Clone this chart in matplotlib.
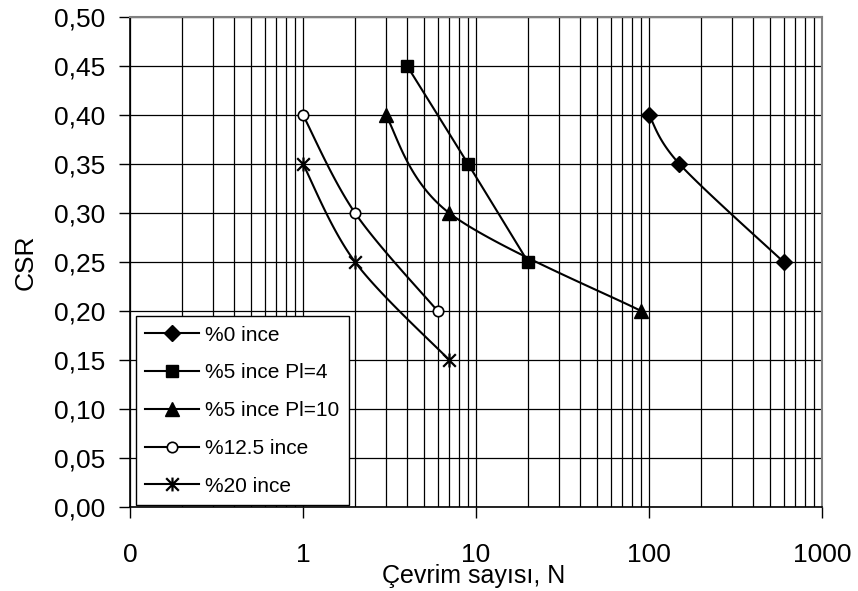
'''
cyclic strength curves: CSR against number of cycles
'''
import numpy as np
import matplotlib
matplotlib.use('Agg')
import matplotlib.pyplot as plt
from matplotlib.path import Path
from matplotlib.ticker import FixedLocator, FixedFormatter, FuncFormatter, LogLocator, NullFormatter

plt.rcParams['font.family'] = ['Liberation Sans', 'DejaVu Sans']

# series: number of cycles N and CSR
labels = ['%0 ince', '%5 ince Pl=4', '%5 ince Pl=10', '%12.5 ince', '%20 ince']
n_fines0 = [100, 150, 600]
csr_fines0 = [0.40, 0.35, 0.25]
n_fines5_pi4 = [4, 9, 20]
csr_fines5_pi4 = [0.45, 0.35, 0.25]
n_fines5_pi10 = [3, 7, 90]
csr_fines5_pi10 = [0.40, 0.30, 0.20]
n_fines12 = [1, 2, 6]
csr_fines12 = [0.40, 0.30, 0.20]
n_fines20 = [1, 2, 7]
csr_fines20 = [0.35, 0.25, 0.15]

x_ticks = [0.1, 1, 10, 100, 1000]
x_tick_labels = ['0', '1', '10', '100', '1000']
y_ticks = [0.00, 0.05, 0.10, 0.15, 0.20, 0.25, 0.30, 0.35, 0.40, 0.45, 0.50]

# asterisk marker: an x with a vertical bar through it
star = Path([(-1, -1), (1, 1), (-1, 1), (1, -1), (0, -1.1), (0, 1.1)],
            [Path.MOVETO, Path.LINETO, Path.MOVETO, Path.LINETO, Path.MOVETO, Path.LINETO])


def smooth(xs, ys, sx, sy):
    ''' spreadsheet style smoothed line (bezier through the points) '''

    p = np.column_stack([np.log10(xs) * sx, np.array(ys) * sy])
    t = np.linspace(0, 1, 40)[:, None]
    out = []
    for i in range(len(p) - 1):
        p0 = p[i - 1] if i > 0 else p[i]
        p3 = p[i + 2] if i + 2 < len(p) else p[i + 1]
        c1 = p[i] + (p[i + 1] - p0) / 6
        c2 = p[i + 1] - (p3 - p[i]) / 6
        seg = ((1 - t) ** 3 * p[i] + 3 * (1 - t) ** 2 * t * c1
               + 3 * (1 - t) * t ** 2 * c2 + t ** 3 * p[i + 1])
        out.append(seg)
    out = np.vstack(out)
    return 10 ** (out[:, 0] / sx), out[:, 1] / sy


def main():
    ''' the main module '''

    fig = plt.figure(figsize=(8.58, 5.91), dpi=100)
    ax = fig.add_axes([130 / 858, 1 - 507 / 591, 692 / 858, 490 / 591])

    ax.set_xscale('log')
    ax.set_xlim(0.1, 1000)
    ax.set_ylim(0, 0.5)

    # pixels per decade and per unit CSR, so the smoothing works in screen space
    sx = 692 / 4
    sy = 490 / 0.5

    series = [
        (n_fines0, csr_fines0, dict(marker='D', markersize=8.5, markerfacecolor='black')),
        (n_fines5_pi4, csr_fines5_pi4, dict(marker='s', markersize=8.5, markerfacecolor='black')),
        (n_fines5_pi10, csr_fines5_pi10, dict(marker='^', markersize=10.5, markerfacecolor='black')),
        (n_fines12, csr_fines12, dict(marker='o', markersize=7.5, markerfacecolor='white',
                                      markeredgewidth=1.2)),
        (n_fines20, csr_fines20, dict(marker=star, markersize=10, markeredgewidth=1.6)),
    ]

    for (xs, ys, style), lab in zip(series, labels):
        cx, cy = smooth(xs, ys, sx, sy)
        ax.plot(cx, cy, color='black', lw=1.5, zorder=3)
        ax.plot(xs, ys, color='black', lw=0, markeredgecolor='black', zorder=4, **style)
        # proxy for the legend: line plus marker
        ax.plot([], [], color='black', lw=1.5, markeredgecolor='black', label=lab, **style)

    # grid on every log decade line and every 0.05 CSR
    ax.xaxis.set_major_locator(FixedLocator(x_ticks))
    ax.xaxis.set_major_formatter(FixedFormatter(x_tick_labels))
    ax.xaxis.set_minor_locator(LogLocator(base=10, subs=np.arange(2, 10), numticks=20))
    ax.xaxis.set_minor_formatter(NullFormatter())
    ax.yaxis.set_major_locator(FixedLocator(y_ticks))
    ax.yaxis.set_major_formatter(FuncFormatter(lambda v, pos: f'{v:.2f}'.replace('.', ',')))

    ax.grid(True, which='both', axis='x', color='black', lw=0.9, zorder=1)
    ax.grid(True, which='major', axis='y', color='black', lw=0.9, zorder=1)

    ax.tick_params(axis='both', which='major', direction='out', length=8, width=1,
                   labelsize=19, color='black')
    ax.tick_params(axis='x', which='major', pad=18)
    ax.tick_params(axis='y', which='major', pad=10)
    ax.tick_params(axis='x', which='minor', length=0)

    for side in ['top', 'right']:
        ax.spines[side].set_color('#808080')
        ax.spines[side].set_linewidth(1.5)
    for side in ['left', 'bottom']:
        ax.spines[side].set_color('black')
        ax.spines[side].set_linewidth(1.2)

    ax.set_xlabel('Çevrim sayısı, N', fontsize=18)
    ax.xaxis.set_label_coords(0.496, -0.116)
    ax.set_ylabel('CSR', fontsize=19)
    ax.yaxis.set_label_coords(-0.134, 0.5)

    leg = ax.legend(loc='lower left', bbox_to_anchor=(0.008, 0.004), fontsize=15,
                    frameon=True, fancybox=False, edgecolor='black', framealpha=1,
                    handlelength=2.6, handletextpad=0.28, labelspacing=0.9,
                    borderpad=0.45, borderaxespad=0)
    leg.get_frame().set_linewidth(1.0)
    leg.set_zorder(5)

    fig.savefig('out.png', dpi=100)
    return


if __name__ == '__main__':
    main()
